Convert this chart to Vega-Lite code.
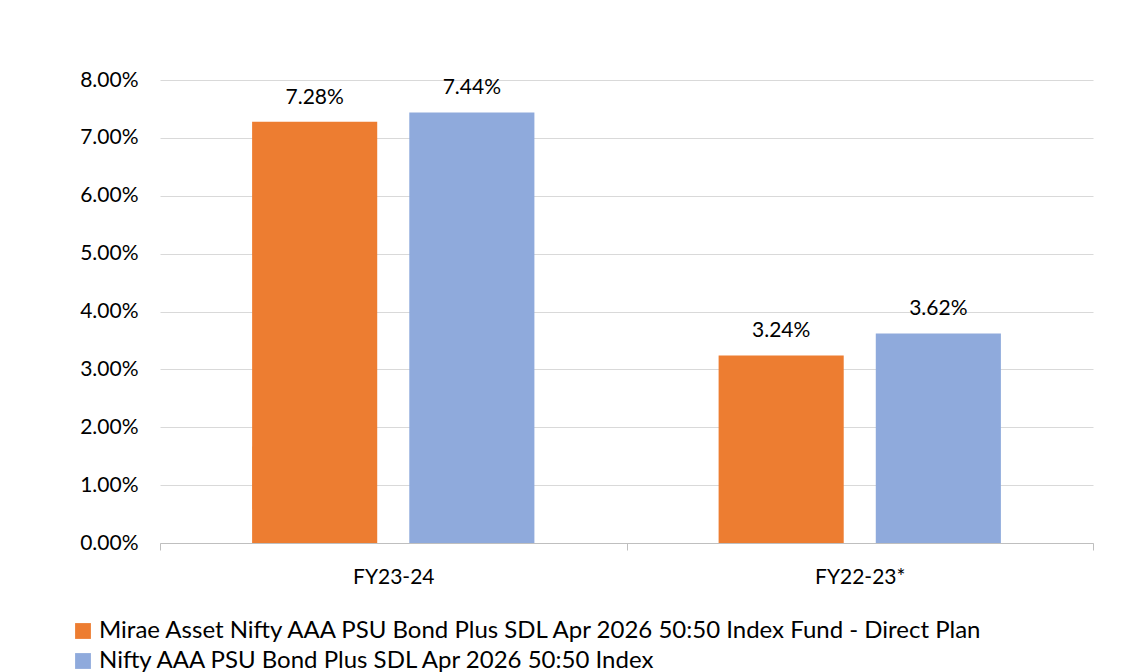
{
  "$schema": "https://vega.github.io/schema/vega-lite/v6.json",
  "autosize": "none",
  "padding": {"left": 160, "top": 80, "right": 31, "bottom": 129},
  "width": 933,
  "height": 463,
  "background": "white",
  "config": {
    "font": "Lato",
    "view": {"stroke": null}
  },
  "data": {
    "values": [
      {"period": "FY23-24", "series": "Mirae Asset Nifty AAA PSU Bond Plus SDL Apr 2026 50:50 Index Fund - Direct Plan", "value": 7.28},
      {"period": "FY23-24", "series": "Nifty AAA PSU Bond Plus SDL Apr 2026 50:50 Index", "value": 7.44},
      {"period": "FY22-23*", "series": "Mirae Asset Nifty AAA PSU Bond Plus SDL Apr 2026 50:50 Index Fund - Direct Plan", "value": 3.24},
      {"period": "FY22-23*", "series": "Nifty AAA PSU Bond Plus SDL Apr 2026 50:50 Index", "value": 3.62}
    ]
  },
  "encoding": {
    "x": {
      "field": "period", "type": "nominal", "sort": ["FY23-24", "FY22-23*"],
      "scale": {"paddingInner": 0, "paddingOuter": 0},
      "axis": {"title": null, "labelAngle": 0, "labelFontSize": 21, "labelColor": "#000000", "labelPadding": 16,
               "domainColor": "#BFBFBF", "tickColor": "#BFBFBF", "tickSize": 7, "tickBand": "extent", "grid": false}
    },
    "xOffset": {
      "field": "series", "type": "nominal",
      "sort": ["Mirae Asset Nifty AAA PSU Bond Plus SDL Apr 2026 50:50 Index Fund - Direct Plan", "Nifty AAA PSU Bond Plus SDL Apr 2026 50:50 Index"],
      "scale": {"paddingInner": 0.204, "paddingOuter": 0.586}
    },
    "y": {
      "field": "value", "type": "quantitative",
      "scale": {"domain": [0, 8], "nice": false},
      "axis": {"title": null, "values": [0,1,2,3,4,5,6,7,8], "labelExpr": "format(datum.value, '.2f') + '%'",
               "labelOverlap": false, "labelFontSize": 21, "labelColor": "#000000", "labelPadding": 22, "ticks": false, "domain": false,
               "gridColor": "#D9D9D9", "gridWidth": 1}
    }
  },
  "layer": [
    {
      "mark": {"type": "bar"},
      "encoding": {
        "color": {
          "field": "series", "type": "nominal",
          "sort": ["Mirae Asset Nifty AAA PSU Bond Plus SDL Apr 2026 50:50 Index Fund - Direct Plan", "Nifty AAA PSU Bond Plus SDL Apr 2026 50:50 Index"],
          "scale": {"range": ["#ED7D31", "#8FAADC"]},
          "legend": {
            "title": null, "orient": "none", "legendX": -89, "legendY": 539, "direction": "vertical",
            "symbolType": "square", "symbolSize": 250, "symbolStrokeWidth": 0, "labelFontSize": 24, "labelColor": "#000000",
            "labelLimit": 1000, "rowPadding": 6, "labelOffset": 4
          }
        }
      }
    },
    {
      "mark": {"type": "text", "baseline": "bottom", "dy": -14, "fontSize": 21, "color": "#000000",
               "text": {"expr": "format(datum.value, '.2f') + '%'"}},
      "encoding": {}
    }
  ]
}
